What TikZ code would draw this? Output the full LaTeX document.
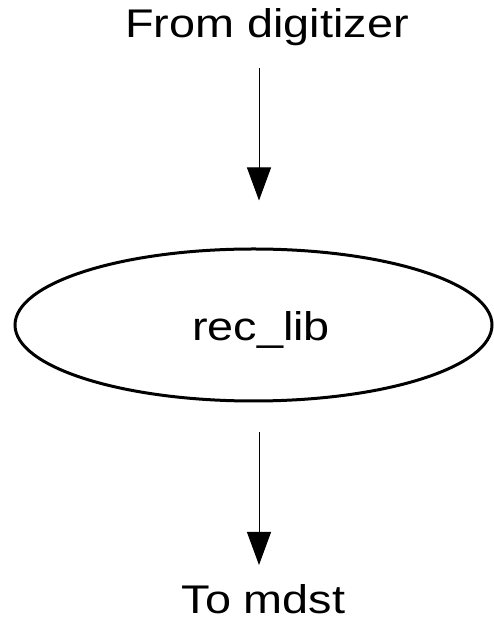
\documentclass[tikz,border=0pt]{standalone}
\usepackage{fontspec}
\setmainfont[FakeStretch=1.17]{Liberation Sans}
\usetikzlibrary{arrows.meta, shapes.geometric}

\begin{document}
\begin{tikzpicture}[x=1pt, y=1pt, font=\fontsize{40}{48}\selectfont,
  flow/.style={-{Triangle[length=33pt, width=24pt]}, line width=1pt},
  tag/.style={anchor=base, inner sep=0pt},
  module/.style={ellipse, draw, line width=3pt, inner sep=0pt,
    minimum width=477pt, minimum height=152pt}]

\useasboundingbox (0,0) rectangle (493,621);

% input and output labels
\node[tag] (src) at (267,583.3) {From digitizer};
\node[tag] (dst) at (263.5,7) {To mdst};

% reconstruction library
\node[module] (lib) at (253.5,296) {};
\node[tag] (libname) at (261,280) {rec\_lib};

% data flow
\coordinate (in-top) at (259,553);
\coordinate (out-top) at (259,189);
\draw[flow, shorten >=47pt] (in-top) -- (in-top |- lib.north);
\draw[flow, shorten >=49pt] (out-top) -- (out-top |- dst.base);

\end{tikzpicture}
\end{document}
